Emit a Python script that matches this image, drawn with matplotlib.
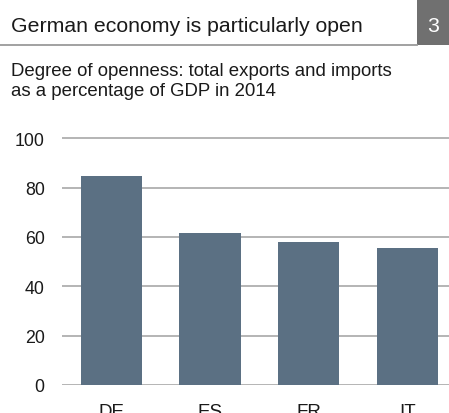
import matplotlib.pyplot as plt
from matplotlib.patches import Rectangle

countries = ["DE", "ES", "FR", "IT"]
openness = [84.7, 61.5, 58.0, 55.4]
y_ticks = [0, 20, 40, 60, 80, 100]

title = "German economy is particularly open"
subtitle_lines = ["Degree of openness: total exports and imports",
                  "as a percentage of GDP in 2014"]
chart_no = "3"

W, H = 449, 414
plt.rcParams["font.family"] = ["Liberation Sans", "DejaVu Sans"]

fig = plt.figure(figsize=(W / 100, H / 100), dpi=100)
fig.patch.set_facecolor("white")

# header: title, rule and number box
fig.text(11 / W, 1 - 32 / H, title, fontsize=15.3, color="#1a1a1a", va="baseline")
fig.add_artist(plt.Line2D([0, 417 / W], [1 - 45.5 / H] * 2, color="#9a9a9a", lw=1.3))
fig.add_artist(Rectangle((417 / W, 1 - 46 / H), 32 / W, 46 / H,
                         transform=fig.transFigure, color="#707070", lw=0))
fig.text(433 / W, 1 - 32 / H, chart_no, fontsize=15.3, color="white",
         ha="center", va="baseline")
for i, line in enumerate(subtitle_lines):
    fig.text(11 / W, 1 - (76 + 20 * i) / H, line, fontsize=13.4,
             color="#1a1a1a", va="baseline")

# plot area: y=0 at 386px, 100 at 139.3px
ppu = (386 - 139.3) / 100
ytop = 105
ax = fig.add_axes([62 / W, (H - 386) / H, 1 - 62 / W, ytop * ppu / H])
ax.bar(range(len(countries)), openness, width=0.62, color="#5b7083", zorder=3)
ax.set_xlim(-0.5, 3.42)
ax.set_ylim(0, ytop)
ax.set_yticks(y_ticks)
ax.set_xticks(range(len(countries)))
ax.set_xticklabels(countries)
ax.yaxis.grid(True, color="#a8a8a8", lw=1.2, zorder=0)
for s in ax.spines.values():
    s.set_visible(False)
ax.tick_params(axis="y", length=0, pad=12.5, labelsize=12.8, labelcolor="#1a1a1a")
ax.tick_params(axis="x", length=0, pad=13, labelsize=13.5, labelcolor="#1a1a1a")

fig.savefig("out.png", dpi=100)
